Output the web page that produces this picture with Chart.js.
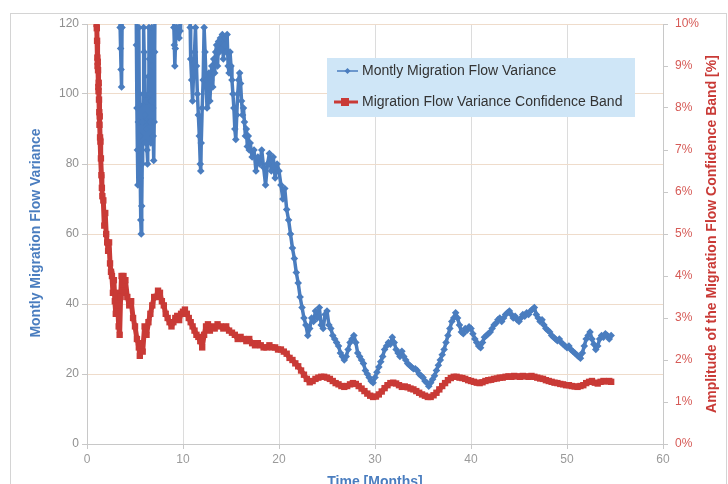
<!DOCTYPE html>
<html>
<head>
<meta charset="utf-8">
<script src="https://cdn.jsdelivr.net/npm/chart.js@4"></script>
<style>
  html, body { margin: 0; padding: 0; background: #fff; }
  #wrap { width: 728px; height: 484px; }
</style>
</head>
<body>
<div id="wrap"><canvas id="chart" width="728" height="484"></canvas></div>
<script>
const colors = {
    variance: '#4a7dbf',
    band: '#c93a36',
    legendBg: '#cfe6f7'
};

// Monthly migration flow variance (left axis); values above 120 run off the top
const varianceMonths = [
    3.3, 3.45, 3.5, 3.55, 3.6, 3.65, 3.75,
    5.1, 5.15, 5.2, 5.25, 5.3, 5.35, 5.4, 5.45, 5.5, 5.55, 5.6, 5.65, 5.7, 5.75, 5.8, 5.85, 5.9, 5.95,
    6.0, 6.05, 6.1, 6.15, 6.2, 6.25, 6.3, 6.35, 6.4, 6.45, 6.5, 6.55, 6.6, 6.65, 6.7, 6.75, 6.8, 6.85, 6.9, 6.95, 7.0, 7.05, 7.1,
    9.0, 9.05, 9.1, 9.15, 9.2, 9.3, 9.4, 9.5, 9.6, 9.7, 9.75,
    10.7, 10.75, 10.8, 10.9, 11.0, 11.1, 11.2, 11.3, 11.4, 11.5, 11.6, 11.7, 11.8, 11.85, 11.9, 12.0, 12.1, 12.2, 12.3, 12.4,
    12.5, 12.6, 12.7, 12.8, 12.9, 13.0, 13.1, 13.2, 13.3, 13.4, 13.5, 13.6, 13.7, 13.8, 13.9, 14.0, 14.1, 14.2, 14.3, 14.4,
    14.5, 14.6, 14.7, 14.8, 14.9, 15.0, 15.1, 15.2, 15.3, 15.4, 15.5, 15.6, 15.7, 15.8, 15.9, 16.0, 16.1, 16.2, 16.3, 16.4,
    16.5, 16.6, 16.7, 16.8, 16.9, 17.0, 17.2, 17.4, 17.6, 17.8, 18.0, 18.2, 18.4, 18.6, 18.8, 19.0, 19.2, 19.4, 19.6, 19.8,
    20.0, 20.2, 20.4, 20.6, 20.8, 21.0, 21.2, 21.4, 21.6, 21.8, 22.0, 22.2, 22.4, 22.6, 22.8, 23.0, 23.2, 23.4, 23.6, 23.8,
    24.0, 24.2, 24.4, 24.6, 24.8, 25.0, 25.2, 25.4, 25.6, 25.8, 26.0, 26.2, 26.4, 26.6, 26.8, 27.0, 27.2, 27.4, 27.6, 27.8,
    28.0, 28.2, 28.4, 28.6, 28.8, 29.0, 29.2, 29.4, 29.6, 29.8, 30.0, 30.2, 30.4, 30.6, 30.8, 31.0, 31.2, 31.4, 31.6, 31.8,
    32.0, 32.2, 32.4, 32.6, 32.8, 33.0, 33.2, 33.4, 33.6, 33.8, 34.0, 34.2, 34.4, 34.6, 34.8, 35.0, 35.2, 35.4, 35.6, 35.8,
    36.0, 36.2, 36.4, 36.6, 36.8, 37.0, 37.2, 37.4, 37.6, 37.8, 38.0, 38.2, 38.4, 38.6, 38.8, 39.0, 39.2, 39.4, 39.6, 39.8,
    40.0, 40.2, 40.4, 40.6, 40.8, 41.0, 41.2, 41.4, 41.6, 41.8, 42.0, 42.2, 42.4, 42.6, 42.8, 43.0, 43.2, 43.4, 43.6, 43.8,
    44.0, 44.2, 44.4, 44.6, 44.8, 45.0, 45.2, 45.4, 45.6, 45.8, 46.0, 46.2, 46.4, 46.6, 46.8, 47.0, 47.2, 47.4, 47.6, 47.8,
    48.0, 48.2, 48.4, 48.6, 48.8, 49.0, 49.2, 49.4, 49.6, 49.8, 50.0, 50.2, 50.4, 50.6, 50.8, 51.0, 51.2, 51.4, 51.6, 51.8,
    52.0, 52.2, 52.4, 52.6, 52.8, 53.0, 53.2, 53.4, 53.6, 53.8, 54.0, 54.2, 54.4, 54.6
];
const varianceValues = [
    135, 119, 113, 107, 102, 119, 135,
    135, 114, 96, 84, 74, 92, 119, 97, 88, 76, 64, 60, 68, 80, 92, 100, 119, 112,
    100, 94, 86, 90, 98, 84, 80, 92, 105, 119, 110, 100, 92, 86, 98, 119, 108, 96, 88, 81, 92, 112, 135,
    135, 119, 114, 108, 113, 119, 117, 119, 116, 118, 135,
    135, 119, 110, 104, 98, 106, 112, 119, 108, 100, 94, 88, 80, 78, 86, 96, 104, 119, 112, 104,
    96, 100, 106, 98, 104, 108, 102, 110, 106, 112, 114, 108, 115, 112, 116, 113, 117, 110, 114, 116,
    112, 117, 108, 106, 112, 108, 104, 100, 96, 90, 87, 94, 100, 104, 106, 103, 98, 94, 96, 92,
    88, 90, 85, 88, 84, 86, 82, 84, 78, 82, 80, 84, 79, 74, 80, 83, 78, 82, 76, 80,
    78, 74, 70, 73, 67, 64, 60, 56, 53, 49, 46, 42, 39, 36, 34, 31, 33, 36, 35, 38,
    36, 39, 34, 33, 37, 38, 34, 33, 31, 30, 29, 28, 26, 25, 24, 25, 27, 29, 30, 31,
    29, 26, 25, 24, 23, 21, 20, 19, 18, 17.5, 19, 20.5, 22, 23.5, 25, 27, 28, 29, 28.5, 30.5,
    29, 27, 26, 25, 26.5, 25, 24, 23, 22.5, 22, 21.5, 21.5, 21, 20, 19.5, 19, 18, 17.5, 16.5, 17.5,
    18.5, 19.5, 21, 22.5, 24, 25.5, 27, 29, 31, 33, 35, 36, 37.5, 36, 34, 32, 31.5, 33, 32.5, 33.5,
    33, 31.5, 30, 29, 28, 27.5, 29, 30.5, 31, 31.5, 32, 33, 34, 34.5, 35.5, 36, 35, 36, 37, 37.5,
    38, 37, 36, 36.5, 35.5, 35, 36, 37, 36.5, 37.5, 37, 38, 38.5, 39, 37, 36, 35, 35.5, 34, 33,
    32.5, 32, 31, 30.5, 30, 29.5, 30, 29, 28.5, 28, 27.5, 28, 27, 26.5, 26, 25.5, 25, 24.5, 26, 28,
    30, 31, 32, 30, 28.5, 27, 28, 30, 31, 30.5, 31.5, 31, 30, 31
];

// Confidence band amplitude in % (right axis)
const bandMonths = [
    1.0, 1.02, 1.05, 1.08, 1.1, 1.12, 1.15, 1.18, 1.2, 1.22, 1.25, 1.28, 1.3, 1.33, 1.36, 1.4, 1.45, 1.5, 1.55, 1.6,
    1.7, 1.8, 1.9, 2.0, 2.1, 2.2, 2.3, 2.4, 2.5, 2.6, 2.7, 2.8, 2.9, 3.0, 3.1, 3.2, 3.3, 3.4, 3.5, 3.6,
    3.7, 3.8, 3.9, 4.0, 4.2, 4.4, 4.6, 4.8, 5.0, 5.2, 5.4, 5.5, 5.6, 5.8, 6.0, 6.2, 6.4, 6.6, 6.8, 7.0,
    7.2, 7.4, 7.6, 7.8, 8.0, 8.2, 8.4, 8.6, 8.8, 9.0, 9.2, 9.4, 9.6, 9.8, 10.0, 10.2, 10.4, 10.6, 10.8, 11.0,
    11.2, 11.4, 11.6, 11.8, 12.0, 12.2, 12.4, 12.6, 12.8, 13.0, 13.3, 13.6, 13.9, 14.2, 14.5, 14.8, 15.1, 15.4, 15.7, 16.0,
    16.3, 16.6, 16.9, 17.2, 17.5, 17.8, 18.1, 18.4, 18.7, 19.0, 19.3, 19.6, 19.9, 20.2, 20.5, 20.8, 21.1, 21.4, 21.7, 22.0,
    22.3, 22.6, 22.9, 23.2, 23.5, 23.8, 24.1, 24.4, 24.7, 25.0, 25.3, 25.6, 25.9, 26.2, 26.5, 26.8, 27.1, 27.4, 27.7, 28.0,
    28.3, 28.6, 28.9, 29.2, 29.5, 29.8, 30.1, 30.4, 30.7, 31.0, 31.3, 31.6, 31.9, 32.2, 32.5, 32.8, 33.1, 33.4, 33.7, 34.0,
    34.3, 34.6, 34.9, 35.2, 35.5, 35.8, 36.1, 36.4, 36.7, 37.0, 37.3, 37.6, 37.9, 38.2, 38.5, 38.8, 39.1, 39.4, 39.7, 40.0,
    40.3, 40.6, 40.9, 41.2, 41.5, 41.8, 42.1, 42.4, 42.7, 43.0, 43.3, 43.6, 43.9, 44.2, 44.5, 44.8, 45.1, 45.4, 45.7, 46.0,
    46.3, 46.6, 46.9, 47.2, 47.5, 47.8, 48.1, 48.4, 48.7, 49.0, 49.3, 49.6, 49.9, 50.2, 50.5, 50.8, 51.1, 51.4, 51.7, 52.0,
    52.3, 52.6, 52.9, 53.2, 53.5, 53.8, 54.1, 54.4, 54.6
];
const bandValues = [
    10, 9.9, 9.6, 9.2, 9.0, 9.1, 8.9, 8.5, 8.4, 8.6, 8.2, 7.9, 7.6, 7.8, 7.3, 7.2, 6.8, 6.4, 6.1, 5.9,
    5.8, 5.2, 5.5, 5.0, 4.8, 4.6, 4.8, 4.3, 4.1, 4.0, 3.6, 3.9, 3.4, 3.1, 3.6, 3.3, 2.8, 2.6, 3.5, 4.0,
    3.8, 4.0, 3.6, 3.9, 3.5, 3.3, 3.4, 3.0, 2.8, 2.5, 2.3, 2.1, 2.4, 2.2, 2.8, 2.6, 2.9, 3.1, 3.3, 3.5,
    3.5, 3.65, 3.6, 3.4, 3.3, 3.1, 3.0, 2.9, 2.8, 2.9, 3.0, 3.05, 2.95, 3.1, 3.15, 3.2, 3.1, 3.0, 2.9, 2.8,
    2.7, 2.6, 2.55, 2.45, 2.3, 2.6, 2.8, 2.85, 2.7, 2.8, 2.75, 2.85, 2.8, 2.75, 2.8, 2.7, 2.65, 2.6, 2.5, 2.55,
    2.5, 2.45, 2.5, 2.4, 2.35, 2.4, 2.35, 2.3, 2.3, 2.35, 2.3, 2.3, 2.25, 2.25, 2.2, 2.15, 2.05, 2.0, 1.92, 1.85,
    1.75, 1.65, 1.55, 1.47, 1.5, 1.55, 1.58, 1.6, 1.6, 1.58, 1.55, 1.5, 1.45, 1.42, 1.38, 1.36, 1.38, 1.42, 1.45, 1.43,
    1.38, 1.32, 1.26, 1.2, 1.15, 1.12, 1.13, 1.18, 1.25, 1.33, 1.4, 1.45, 1.46, 1.44, 1.4, 1.36, 1.37, 1.35, 1.32, 1.3,
    1.26, 1.22, 1.18, 1.15, 1.12, 1.12, 1.16, 1.22, 1.3, 1.38, 1.45, 1.52, 1.57, 1.6, 1.6, 1.58, 1.57, 1.55, 1.52, 1.5,
    1.48, 1.46, 1.45, 1.47, 1.5, 1.52, 1.53, 1.55, 1.56, 1.58, 1.58, 1.6, 1.61, 1.6, 1.62, 1.61, 1.6, 1.62, 1.61, 1.6,
    1.62, 1.6, 1.58, 1.56, 1.55, 1.52, 1.5, 1.48, 1.46, 1.45, 1.43, 1.42, 1.4, 1.4, 1.38, 1.37, 1.36, 1.38, 1.4, 1.45,
    1.48, 1.5, 1.46, 1.44, 1.48, 1.5, 1.49, 1.5, 1.48
];

const seriesLabels = ['Montly Migration Flow Variance', 'Migration Flow Variance Confidence Band'];
const axisTitles = {
    left: 'Montly Migration Flow Variance',
    right: 'Amplitude of the Migration Flow Confidence Band [%]',
    bottom: 'Time [Months]'
};

const toPoints = (xs, ys) => xs.map((x, i) => ({ x: x, y: ys[i] }));

// legend box, axis titles and outer frame are drawn by hand
const decorations = {
    id: 'decorations',
    afterDraw(chart) {
        const ctx = chart.ctx;
        ctx.save();

        ctx.strokeStyle = '#d4d4d4';
        ctx.lineWidth = 1;
        ctx.strokeRect(10.5, 13.5, 716, 480);

        ctx.fillStyle = colors.legendBg;
        ctx.fillRect(327, 58, 308, 59);

        ctx.strokeStyle = colors.variance;
        ctx.lineWidth = 1.5;
        ctx.beginPath(); ctx.moveTo(337, 71); ctx.lineTo(358, 71); ctx.stroke();
        ctx.fillStyle = colors.variance;
        ctx.beginPath();
        ctx.moveTo(347.5, 68); ctx.lineTo(350.5, 71); ctx.lineTo(347.5, 74); ctx.lineTo(344.5, 71);
        ctx.closePath(); ctx.fill();

        ctx.strokeStyle = colors.band;
        ctx.lineWidth = 3;
        ctx.beginPath(); ctx.moveTo(334, 102); ctx.lineTo(358, 102); ctx.stroke();
        ctx.fillStyle = colors.band;
        ctx.fillRect(341, 98, 8, 8);

        ctx.fillStyle = '#333';
        ctx.font = '14px "Liberation Sans", Arial, sans-serif';
        ctx.textAlign = 'left';
        ctx.textBaseline = 'middle';
        ctx.fillText(seriesLabels[0], 362, 71);
        ctx.fillText(seriesLabels[1], 362, 102);

        ctx.font = 'bold 14px "Liberation Sans", Arial, sans-serif';
        ctx.textAlign = 'center';

        ctx.fillStyle = colors.variance;
        ctx.save();
        ctx.translate(36, 233);
        ctx.rotate(-Math.PI / 2);
        ctx.fillText(axisTitles.left, 0, 0);
        ctx.restore();

        ctx.fillStyle = colors.band;
        ctx.save();
        ctx.translate(712, 234);
        ctx.rotate(-Math.PI / 2);
        ctx.fillText(axisTitles.right, 0, 0);
        ctx.restore();

        ctx.fillStyle = colors.variance;
        ctx.fillText(axisTitles.bottom, 375, 482);

        ctx.restore();
    }
};

const ctx = document.getElementById('chart').getContext('2d');
const chart = new Chart(ctx, {
    type: 'line',
    data: {
        datasets: [{
            label: seriesLabels[0],
            data: toPoints(varianceMonths, varianceValues),
            yAxisID: 'y',
            borderColor: colors.variance,
            backgroundColor: colors.variance,
            borderWidth: 3.5,
            borderJoinStyle: 'round',
            pointStyle: 'rectRot',
            pointRadius: 3.8,
            pointBorderWidth: 0,
            order: 1
        }, {
            label: seriesLabels[1],
            data: toPoints(bandMonths, bandValues),
            yAxisID: 'y2',
            borderColor: colors.band,
            backgroundColor: colors.band,
            borderWidth: 5,
            borderJoinStyle: 'round',
            pointStyle: 'rect',
            pointRadius: 4.5,
            pointBorderWidth: 0,
            order: 0
        }]
    },
    options: {
        responsive: false,
        animation: false,
        layout: { padding: { top: 24, left: 0, right: 0, bottom: 0 } },
        plugins: {
            legend: { display: false },
            tooltip: { enabled: false }
        },
        scales: {
            x: {
                type: 'linear',
                min: 0,
                max: 60,
                afterFit: scale => { scale.height = 40; },
                ticks: {
                    stepSize: 10,
                    color: '#9a9a9a',
                    padding: 3,
                    font: { family: '"Liberation Sans", Arial, sans-serif', size: 12 }
                },
                grid: { color: '#dcdcdc', tickColor: '#c8c8c8', tickLength: 5 },
                border: { color: '#c8c8c8' }
            },
            y: {
                position: 'left',
                min: 0,
                max: 120,
                afterFit: scale => { scale.width = 87; },
                ticks: {
                    stepSize: 20,
                    color: '#8f8f8f',
                    padding: 3,
                    font: { family: '"Liberation Sans", Arial, sans-serif', size: 12 }
                },
                grid: { color: '#efdccb', tickColor: '#c8c8c8', tickLength: 5 },
                border: { color: '#c8c8c8' }
            },
            y2: {
                position: 'right',
                min: 0,
                max: 10,
                afterFit: scale => { scale.width = 65; },
                ticks: {
                    stepSize: 1,
                    color: '#d65a56',
                    padding: 7,
                    callback: v => v + '%',
                    font: { family: '"Liberation Sans", Arial, sans-serif', size: 12 }
                },
                grid: { drawOnChartArea: false, tickColor: '#c8c8c8', tickLength: 5 },
                border: { color: '#c8c8c8' }
            }
        }
    },
    plugins: [decorations]
});
</script>
</body>
</html>
